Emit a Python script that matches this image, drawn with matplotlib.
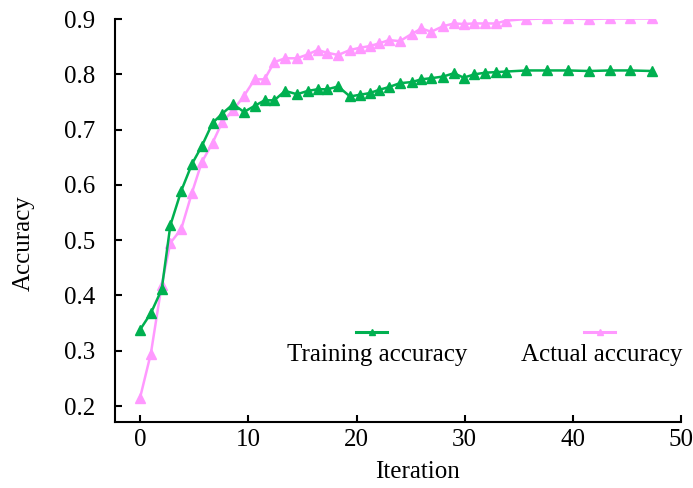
import matplotlib
matplotlib.use("Agg")
import matplotlib.pyplot as plt

plt.rcParams['font.family'] = ['Liberation Serif', 'DejaVu Serif']
plt.rcParams['mathtext.fontset'] = 'stix'

iterations = [0, 1, 2, 2.8, 3.8, 4.8, 5.7, 6.7, 7.6, 8.6, 9.6, 10.6, 11.5, 12.4, 13.4,
              14.5, 15.5, 16.4, 17.3, 18.3, 19.4, 20.3, 21.2, 22.1, 23.0, 24.0, 25.1,
              26.0, 26.9, 28.0, 29.0, 29.9, 30.9, 31.9, 32.9, 33.8, 35.7, 37.6, 39.5,
              41.5, 43.4, 45.3, 47.3]
training_acc = [0.338, 0.368, 0.411, 0.527, 0.589, 0.638, 0.670, 0.712, 0.729, 0.746,
                0.732, 0.743, 0.753, 0.753, 0.770, 0.764, 0.770, 0.773, 0.773, 0.778,
                0.760, 0.763, 0.766, 0.772, 0.777, 0.784, 0.786, 0.791, 0.793, 0.796,
                0.802, 0.794, 0.800, 0.803, 0.804, 0.805, 0.807, 0.807, 0.807, 0.806,
                0.807, 0.807, 0.806]
actual_acc = [0.215, 0.295, 0.419, 0.495, 0.520, 0.586, 0.641, 0.676, 0.714, 0.735,
              0.761, 0.791, 0.791, 0.822, 0.829, 0.829, 0.836, 0.844, 0.839, 0.835,
              0.844, 0.848, 0.851, 0.856, 0.862, 0.860, 0.873, 0.883, 0.877, 0.887,
              0.892, 0.891, 0.892, 0.892, 0.892, 0.897, 0.900, 0.901, 0.901, 0.900,
              0.901, 0.901, 0.901]
x_ticks = [0, 10, 20, 30, 40, 50]
y_ticks = [0.2, 0.3, 0.4, 0.5, 0.6, 0.7, 0.8, 0.9]
series_labels = ["Training accuracy", "Actual accuracy"]

green = "#00B050"
pink = "#FF99FF"

fig = plt.figure(figsize=(6.93, 4.88), dpi=100)
ax = fig.add_axes([0.166, 0.135, 0.817, 0.826])

ax.plot(iterations, actual_acc, color=pink, lw=1.8, marker='^', ms=7, zorder=2)
ax.plot(iterations, training_acc, color=green, lw=1.8, marker='^', ms=7, zorder=3)

ax.set_xlim(-2.31, 50)
ax.set_ylim(0.171, 0.9)
ax.set_xticks(x_ticks)
ax.set_yticks(y_ticks)
ax.set_yticklabels([f"{v:.1f}" for v in y_ticks])

for s in ['top', 'right']:
    ax.spines[s].set_visible(False)
for s in ['left', 'bottom']:
    ax.spines[s].set_linewidth(1.5)

ax.tick_params(axis='both', direction='in', length=5, width=1.5, labelsize=18)
ax.tick_params(axis='y', pad=14)
ax.tick_params(axis='x', pad=5)

ax.set_xlabel("Iteration", fontsize=18)
ax.set_ylabel("Accuracy", fontsize=18)
ax.xaxis.set_label_coords(0.534, -0.097)
ax.yaxis.set_label_coords(-0.141, 0.444)

# custom legend: handle above text
tr = ax.transAxes
for (x0, x1, xc), col, lab in [((0.426, 0.481, 0.463), green, series_labels[0]),
                               ((0.829, 0.883, 0.860), pink, series_labels[1])]:
    ax.plot([x0, x1], [0.223, 0.223], color=col, lw=2.2, transform=tr, clip_on=False)
    ax.plot([(x0 + x1) / 2], [0.223], color=col, marker='^', ms=5, transform=tr, clip_on=False)
    ax.text(xc, 0.166, lab, transform=tr, ha='center', va='center', fontsize=18, clip_on=False)

fig.savefig("out.png", dpi=100)
